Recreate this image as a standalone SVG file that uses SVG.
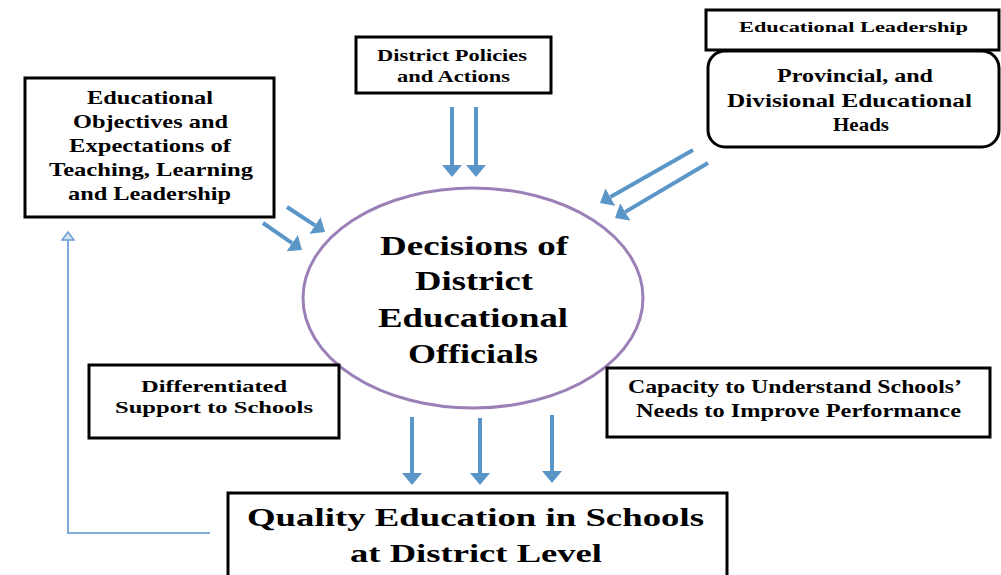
<svg xmlns="http://www.w3.org/2000/svg" width="1001" height="575" viewBox="0 0 1001 575">
<defs>
<style>
.box{fill:#fff;stroke:#000;stroke-width:3}
.t{font-family:"Liberation Serif","Times New Roman",serif;font-weight:bold;fill:#000}
.arr{stroke:#5b96c8;stroke-width:4;fill:none;marker-end:url(#ah)}
</style>
<marker id="ah" markerUnits="userSpaceOnUse" viewBox="0 0 12 20" markerWidth="12" markerHeight="20" refX="0" refY="10" orient="auto">
<path d="M0,0 L12,10 L0,20 Z" fill="#5b96c8"/>
</marker>
</defs>
<rect width="1001" height="575" fill="#fff"/>

<g id="connectors">
<line class="arr" x1="452" y1="107" x2="452" y2="165"/>
<line class="arr" x1="476" y1="107" x2="476" y2="165"/>
<line class="arr" x1="287" y1="207" x2="315" y2="225.4"/>
<line class="arr" x1="263" y1="223" x2="292.1" y2="243.2"/>
<line class="arr" x1="693" y1="150" x2="610.4" y2="197.1"/>
<line class="arr" x1="708" y1="163" x2="625.3" y2="211.9"/>
<line class="arr" x1="412" y1="417" x2="412" y2="473"/>
<line class="arr" x1="480" y1="418" x2="480" y2="473"/>
<line class="arr" x1="552" y1="415" x2="552" y2="471"/>
<polyline points="210,533 68,533 68,240" fill="none" stroke="#7fa9d8" stroke-width="2"/>
<polygon points="68,232 62,240 74,240" fill="#d4e3f3" stroke="#6f9fd0" stroke-width="1.5"/>
</g>

<g id="node-objectives">
<rect class="box" x="25" y="78" width="249" height="139"/>
<text class="t" font-size="19" x="87" y="104" textLength="126" lengthAdjust="spacingAndGlyphs">Educational</text>
<text class="t" font-size="19" x="73" y="128" textLength="155" lengthAdjust="spacingAndGlyphs">Objectives and</text>
<text class="t" font-size="19" x="69" y="152" textLength="162" lengthAdjust="spacingAndGlyphs">Expectations of</text>
<text class="t" font-size="19" x="49" y="176" textLength="204" lengthAdjust="spacingAndGlyphs">Teaching, Learning</text>
<text class="t" font-size="19" x="68" y="200" textLength="163" lengthAdjust="spacingAndGlyphs">and Leadership</text>
</g>

<g id="node-policies">
<rect class="box" x="356" y="37" width="195" height="56"/>
<text class="t" font-size="16" x="377" y="61" textLength="150" lengthAdjust="spacingAndGlyphs">District Policies</text>
<text class="t" font-size="16" x="397" y="82" textLength="113" lengthAdjust="spacingAndGlyphs">and Actions</text>
</g>

<g id="node-leadership">
<rect class="box" x="706" y="10" width="293" height="40"/>
<text class="t" font-size="14" x="739" y="32" textLength="229" lengthAdjust="spacingAndGlyphs">Educational Leadership</text>
</g>

<g id="node-heads">
<rect class="box" x="708" y="51" width="291" height="96" rx="17" ry="17"/>
<text class="t" font-size="18" x="777" y="82" textLength="156" lengthAdjust="spacingAndGlyphs">Provincial, and</text>
<text class="t" font-size="18" x="727" y="107" textLength="245" lengthAdjust="spacingAndGlyphs">Divisional Educational</text>
<text class="t" font-size="18" x="833" y="131" textLength="56" lengthAdjust="spacingAndGlyphs">Heads</text>
</g>

<g id="node-decisions">
<ellipse cx="473" cy="298" rx="170" ry="110" fill="#fff" stroke="#9b80b8" stroke-width="3"/>
<text class="t" font-size="28" x="380" y="255" textLength="188" lengthAdjust="spacingAndGlyphs">Decisions of</text>
<text class="t" font-size="28" x="415" y="290" textLength="118" lengthAdjust="spacingAndGlyphs">District</text>
<text class="t" font-size="28" x="378" y="327" textLength="190" lengthAdjust="spacingAndGlyphs">Educational</text>
<text class="t" font-size="28" x="408" y="363" textLength="130" lengthAdjust="spacingAndGlyphs">Officials</text>
</g>

<g id="node-support">
<rect class="box" x="89" y="365" width="250" height="73"/>
<text class="t" font-size="17" x="141" y="392" textLength="146" lengthAdjust="spacingAndGlyphs">Differentiated</text>
<text class="t" font-size="17" x="115" y="413" textLength="198" lengthAdjust="spacingAndGlyphs">Support to Schools</text>
</g>

<g id="node-capacity">
<rect class="box" x="607" y="368" width="383" height="69"/>
<text class="t" font-size="19" x="628" y="393" textLength="334" lengthAdjust="spacingAndGlyphs">Capacity to Understand Schools’</text>
<text class="t" font-size="19" x="636" y="417" textLength="325" lengthAdjust="spacingAndGlyphs">Needs to Improve Performance</text>
</g>

<g id="node-quality">
<rect class="box" x="228" y="493" width="499" height="90"/>
<text class="t" font-size="26" x="247" y="526" textLength="457" lengthAdjust="spacingAndGlyphs">Quality Education in Schools</text>
<text class="t" font-size="26" x="350" y="562" textLength="252" lengthAdjust="spacingAndGlyphs">at District Level</text>
</g>
</svg>
